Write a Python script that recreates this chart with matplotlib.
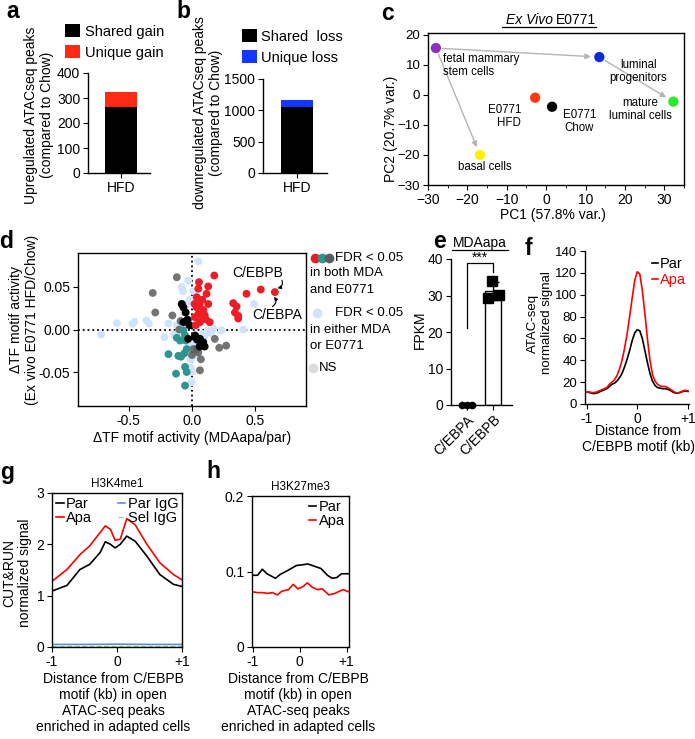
import numpy as np
import matplotlib
matplotlib.use('Agg')
import matplotlib.pyplot as plt
from matplotlib.lines import Line2D
from matplotlib.ticker import MultipleLocator

plt.rcParams['font.family'] = ['Liberation Sans', 'DejaVu Sans']
plt.rcParams['font.size'] = 10
plt.rcParams['axes.linewidth'] = 1.0
plt.rcParams['xtick.major.size'] = 3.5
plt.rcParams['ytick.major.size'] = 3.5
plt.rcParams['xtick.major.pad'] = 2
plt.rcParams['ytick.major.pad'] = 2

# ---- data ----
# a / b: stacked bars
bar_cat = ['HFD']
shared_gain = [265]
unique_gain = [60]
shared_loss = [1055]
unique_loss = [110]

# c: PCA
pca_names = ['fetal mammary\nstem cells', 'luminal\nprogenitors', 'mature\nluminal cells',
             'E0771\nHFD', 'E0771\nChow', 'basal cells']
pca_x = [-28.0, 13.5, 32.3, -2.8, 1.5, -16.8]
pca_y = [15.5, 12.5, -2.3, -1.0, -4.0, -20.0]
pca_col = ['#8e2fc4', '#0b2bd6', '#2ae82a', '#ff3a12', '#000000', '#fff200']

# d: TF motif activity
red_x = [0.176, 0.055, 0.128, 0.05, 0.115, 0.037, 0.081, 0.128, 0.037, 0.089, 0.05, 0.14,
         0.089, 0.024, 0.063, 0.03, 0.10, 0.06, 0.02, 0.11,
         0.325, 0.352, 0.339, 0.365, 0.365, 0.43, 0.543, 0.654]
red_y = [0.0635, 0.0557, 0.0506, 0.048, 0.042, 0.038, 0.035, 0.030, 0.026, 0.023, 0.018, 0.0086,
         0.0126, 0.0145, 0.0086, 0.005, 0.017, 0.030, 0.030, 0.012,
         0.031, 0.027, 0.020, 0.016, 0.013, 0.042, 0.047, 0.044]
lb_x = [-0.717, -0.593, -0.47, -0.455, -0.36, -0.34, -0.218, -0.186, -0.081, -0.07, -0.03, -0.02,
        -0.016, -0.01, -0.003, -0.01, 0.05, 0.234, 0.404, 0.49, 0.126, 0.17, 0.08, 0.02, 0.03,
        -0.12, -0.1, -0.06, -0.04, 0.0, -0.05, 0.1, 0.15, -0.14, 0.01, 0.0]
lb_y = [-0.006, 0.0074, 0.0067, 0.009, 0.0106, 0.007, -0.009, 0.007, 0.05, 0.045, 0.0576, 0.035,
        -0.016, -0.045, -0.062, -0.035, 0.080, -0.001, 0.0, 0.03, -0.001, 0.001, -0.005, -0.02, -0.03,
        0.005, -0.003, 0.02, 0.03, 0.01, -0.01, -0.008, -0.004, -0.006, 0.045, -0.05]
blk_x = [-0.081, -0.068, -0.05, -0.042, -0.068, -0.034, -0.02, 0.024, 0.063, 0.089, 0.08, 0.04,
         0.024, -0.03, 0.10, 0.06]
blk_y = [0.030, 0.026, 0.02, 0.0106, 0.0086, 0.0114, 0.005, -0.007, -0.011, -0.015, -0.017, -0.012,
         -0.009, -0.011, -0.02, -0.02]
gry_x = [-0.12, -0.31, -0.29, -0.155, -0.08, -0.09, 0.01, 0.063, 0.18, 0.215, 0.27, 0.05, 0.037,
         -0.1, 0.07, 0.0]
gry_y = [0.0615, 0.043, 0.020, 0.0165, 0.03, 0.01, -0.023, -0.048, -0.011, -0.0215, -0.019, -0.027,
         -0.023, 0.0, -0.035, -0.03]
teal_x = [-0.12, -0.055, -0.094, -0.05, -0.186, -0.108, -0.087, -0.06, -0.042, -0.055, -0.126,
          -0.042, -0.055, -0.068]
teal_y = [-0.0098, -0.007, -0.013, -0.013, -0.029, -0.031, -0.032, -0.028, -0.023, -0.044, -0.052,
          -0.050, -0.066, -0.001]

# e: FPKM
e_genes = ['C/EBPA', 'C/EBPB']
cebpa_fpkm = [0.0, 0.0, 0.0]
cebpb_fpkm = [29.3, 34.1, 30.2]

# f: ATAC-seq profile around C/EBPB motif
f_x = [-1.0, -0.95, -0.9, -0.85, -0.8, -0.75, -0.7, -0.65, -0.6, -0.55, -0.5, -0.45, -0.4, -0.35,
       -0.3, -0.25, -0.2, -0.15, -0.1, -0.05, 0.0, 0.05, 0.1, 0.15, 0.2, 0.25, 0.3, 0.35, 0.4, 0.45,
       0.5, 0.55, 0.6, 0.65, 0.7, 0.75, 0.8, 0.85, 0.9, 0.95, 1.0]
f_par = [11, 10.5, 10, 9.5, 10, 11, 12, 13, 14, 16, 18, 19, 21, 24, 28, 34, 41, 49, 58, 65, 68, 67,
         60, 49, 38, 28, 21, 17, 15, 14.5, 14, 14, 13.5, 12.5, 11, 10, 10, 10.5, 11.5, 12, 11.5]
f_apa = [11, 11, 10.5, 10.5, 11, 12, 13, 14, 15, 18, 20, 22, 26, 32, 40, 51, 64, 80, 97, 113, 121,
         119, 104, 83, 60, 40, 27, 21, 18, 16.5, 16, 16, 15, 13.5, 12, 10.5, 10, 11, 12, 12.5, 12]

# g: H3K4me1
g_x = [-1.0, -0.77, -0.57, -0.42, -0.26, -0.18, -0.1, -0.03, 0.05, 0.15, 0.28, 0.46, 0.66, 0.87, 1.0]
g_par = [1.09, 1.2, 1.51, 1.61, 1.84, 2.05, 2.0, 1.93, 2.0, 2.16, 2.06, 1.77, 1.41, 1.22, 1.18]
g_apa = [1.28, 1.51, 1.8, 1.97, 2.23, 2.36, 2.29, 2.08, 2.1, 2.5, 2.38, 2.0, 1.64, 1.41, 1.31]
g_igg_x = [-1.0, -0.5, 0.0, 0.5, 1.0]
g_par_igg = [0.05, 0.05, 0.055, 0.05, 0.05]
g_sel_igg = [0.02, 0.02, 0.02, 0.02, 0.02]

# h: H3K27me3
h_x = [-1.0, -0.9, -0.8, -0.7, -0.52, -0.42, -0.24, -0.07, 0.07, 0.17, 0.31, 0.45, 0.59, 0.69,
       0.79, 0.89, 1.05]
h_par = [0.095, 0.095, 0.103, 0.097, 0.091, 0.096, 0.102, 0.108, 0.109, 0.110, 0.107, 0.104,
         0.095, 0.091, 0.092, 0.097, 0.097]
h_apa_x = [-1.0, -0.9, -0.79, -0.69, -0.58, -0.48, -0.38, -0.24, -0.14, -0.04, 0.07, 0.16, 0.27,
           0.38, 0.48, 0.62, 0.75, 0.92, 1.05]
h_apa = [0.073, 0.072, 0.072, 0.071, 0.072, 0.069, 0.074, 0.076, 0.083, 0.077, 0.080, 0.085,
         0.079, 0.076, 0.077, 0.069, 0.071, 0.076, 0.073]

# ---- layout helpers (pixel positions in the 695x739 figure) ----
W, H = 695, 739
fig = plt.figure(figsize=(W / 100, H / 100), dpi=100)


def box(l, r, t, b):
    return [l / W, 1 - b / H, (r - l) / W, (b - t) / H]


def fx(px):
    return px / W


def fy(py):
    return 1 - py / H


def clean(ax):
    ax.spines['top'].set_visible(False)
    ax.spines['right'].set_visible(False)


RED = '#ff2a14'
BLUE = '#1436ff'

# panel letters
for lab, (px, py) in zip('abcdefgh', [(13, 12), (183, 12), (388, 14), (6, 241), (440, 242),
                                      (528, 248), (7, 472), (213, 472)]):
    fig.text(fx(px), fy(py), lab, fontsize=16.5, fontweight='bold', ha='center', va='center')

# ---- a ----
ax_a = fig.add_axes(box(88, 150, 73, 173))
ax_a.bar(bar_cat, shared_gain, width=0.8, color='black', label='Shared gain')
ax_a.bar(bar_cat, unique_gain, bottom=shared_gain, width=0.8, color=RED, label='Unique gain')
ax_a.set_xlim(-0.825, 0.725)
ax_a.set_ylim(0, 400)
ax_a.set_yticks([0, 100, 200, 300, 400])
clean(ax_a)
ax_a.legend(loc='upper left', bbox_to_anchor=(fx(65), fy(24)), bbox_transform=fig.transFigure,
            frameon=False, handlelength=1.0, handleheight=1.0, handletextpad=0.4,
            labelspacing=0.45, borderpad=0, borderaxespad=0, fontsize=10.5)
fig.text(fx(39), fy(115), 'Upregulated ATACseq peaks\n(compared to Chow)', rotation=90,
         ha='center', va='center', multialignment='center', fontsize=10)

# ---- b ----
ax_b = fig.add_axes(box(263, 327, 79, 173))
ax_b.bar(bar_cat, shared_loss, width=0.8, color='black', label='Shared  loss')
ax_b.bar(bar_cat, unique_loss, bottom=shared_loss, width=0.8, color=BLUE, label='Unique loss')
ax_b.set_xlim(-0.85, 0.765)
ax_b.set_ylim(0, 1500)
ax_b.set_yticks([0, 500, 1000, 1500])
clean(ax_b)
ax_b.legend(loc='upper left', bbox_to_anchor=(fx(242), fy(29)), bbox_transform=fig.transFigure,
            frameon=False, handlelength=1.0, handleheight=1.0, handletextpad=0.3,
            labelspacing=0.45, borderpad=0, borderaxespad=0, fontsize=10.5)
fig.text(fx(208), fy(113), 'downregulated ATACseq peaks\n(compared to Chow)', rotation=90,
         ha='center', va='center', multialignment='center', fontsize=10)

# ---- c ----
ax_c = fig.add_axes(box(428, 684, 33, 185))
arrow_kw = dict(arrowstyle='-|>', color='#b4b4b4', lw=1.0, shrinkA=5, shrinkB=6, mutation_scale=8)
for i, j in [(0, 1), (1, 2), (0, 5)]:
    ax_c.annotate('', xy=(pca_x[j], pca_y[j]), xytext=(pca_x[i], pca_y[i]), arrowprops=arrow_kw)
ax_c.scatter(pca_x, pca_y, c=pca_col, s=55, zorder=3, edgecolors='none')
lab_pos = [(-26.2, 9.7, 'left'), (23.4, 7.7, 'center'), (24.0, -4.8, 'center'),
           (-6.4, -7.2, 'right'), (8.4, -9.0, 'center'), (-15.5, -24.0, 'center')]
for name, (tx, ty, ha) in zip(pca_names, lab_pos):
    ax_c.text(tx, ty, name, ha=ha, va='center', multialignment=ha, fontsize=8.3, linespacing=1.1)
ax_c.set_xlim(-30, 35)
ax_c.set_ylim(-30, 20.5)
ax_c.set_xticks([-30, -20, -10, 0, 10, 20, 30])
ax_c.xaxis.set_minor_locator(MultipleLocator(5))
ax_c.tick_params(which='minor', length=2.5)
ax_c.set_yticks([-30, -20, -10, 0, 10, 20])
ax_c.tick_params(axis='y', labelsize=9.5)
fig.text(fx(391), fy(129), 'PC2 (20.7% var.)', rotation=90, ha='center', va='center', fontsize=10)
fig.text(fx(553), fy(215), 'PC1 (57.8% var.)', ha='center', va='center', fontsize=10)
fig.text(fx(553), fy(20), 'Ex Vivo', ha='right', va='center', fontsize=10, style='italic')
fig.text(fx(556), fy(20), 'E0771', ha='left', va='center', fontsize=10)
fig.add_artist(Line2D([fx(502), fx(596)], [fy(27), fy(27)], color='black', lw=0.9))

# ---- d ----
ax_d = fig.add_axes(box(78, 306, 253, 406))
ms = 32
ax_d.scatter(lb_x, lb_y, s=ms, color='#cfe4fa', edgecolors='none', zorder=2)
ax_d.scatter(gry_x, gry_y, s=ms, color='#5c5c5c', alpha=0.85, edgecolors='none', zorder=3)
ax_d.scatter(teal_x, teal_y, s=ms, color='#2e9490', edgecolors='none', zorder=4)
ax_d.scatter(blk_x, blk_y, s=ms, color='black', edgecolors='none', zorder=4)
ax_d.scatter(red_x, red_y, s=ms, color='#ee1c25', edgecolors='none', zorder=5)
ax_d.axhline(0, color='black', ls=':', lw=1.3, zorder=1)
ax_d.axvline(0, color='black', ls=':', lw=1.3, zorder=1)
ax_d.set_xlim(-0.9, 0.9)
ax_d.set_ylim(-0.09, 0.09)
ax_d.set_xticks([-0.5, 0.0, 0.5])
ax_d.set_yticks([-0.05, 0.0, 0.05])
ax_d.set_yticklabels(['-0.05', '0.00', '0.05'])
ax_d.set_xticklabels(['-0.5', '0.0', '0.5'])
ax_d.text(0.52, 0.067, 'C/EBPB', ha='center', va='center', fontsize=10)
ax_d.text(0.67, 0.0165, 'C/EBPA', ha='center', va='center', fontsize=10)
hook = dict(arrowstyle='-|>', color='black', lw=0.8, shrinkA=0, shrinkB=0, mutation_scale=5)
ax_d.annotate('', xy=(0.675, 0.0485), xytext=(0.71, 0.058),
              arrowprops=dict(hook, connectionstyle='arc3,rad=-0.5'))
ax_d.annotate('', xy=(0.648, 0.0385), xytext=(0.635, 0.027),
              arrowprops=dict(hook, connectionstyle='arc3,rad=0.5'))
fig.text(fx(16), fy(320), '\u0394TF motif activity', rotation=90, ha='center', va='center', fontsize=10)
fig.text(fx(32), fy(320), '(Ex vivo E0771 HFD/Chow)', rotation=90, ha='center', va='center', fontsize=10)
fig.text(fx(192), fy(438), '\u0394TF motif activity (MDAapa/par)', ha='center', va='center', fontsize=10)
# legend of d
leg_dots = [(315, 258, '#ee1c25'), (322, 258, '#2e9490'), (329, 258, '#5c5c5c'),
            (317, 313, '#cfe4fa'), (313, 368, '#dcdcdc')]
for px, py, col in leg_dots:
    fig.add_artist(Line2D([fx(px)], [fy(py)], marker='o', ms=7, color=col, mec='none', ls='none'))
fig.text(fx(335), fy(258), 'FDR < 0.05', va='center', fontsize=9.5)
fig.text(fx(310), fy(273), 'in both MDA', va='center', fontsize=9.5)
fig.text(fx(310), fy(290), 'and E0771', va='center', fontsize=9.5)
fig.text(fx(335), fy(313), 'FDR < 0.05', va='center', fontsize=9.5)
fig.text(fx(310), fy(330), 'in either MDA', va='center', fontsize=9.5)
fig.text(fx(310), fy(346), 'or E0771', va='center', fontsize=9.5)
fig.text(fx(319), fy(368), 'NS', va='center', fontsize=9.5)

# ---- e ----
ax_e = fig.add_axes(box(451, 512, 259, 405))
means = [np.mean(cebpa_fpkm), np.mean(cebpb_fpkm)]
ax_e.bar([0, 1], means, width=0.65, color='white', edgecolor='black', lw=1.0, zorder=2)
ax_e.errorbar(1, means[1], yerr=np.std(cebpb_fpkm, ddof=1), color='black', capsize=4, lw=1.0,
              zorder=3)
ax_e.plot([-0.2, 0.0, 0.18], cebpa_fpkm, 'o', color='black', ms=4.5, clip_on=False, zorder=4)
ax_e.plot([0.8, 0.97, 1.22], cebpb_fpkm, 's', color='black', ms=6.5, clip_on=False, zorder=4)
ax_e.plot([0, 0, 1, 1], [21, 39, 39, 36.5], color='black', lw=0.9, clip_on=False)
ax_e.text(0.5, 39.3, '***', ha='center', va='baseline', fontsize=10)
ax_e.set_xlim(-0.62, 1.73)
ax_e.set_ylim(0, 40)
ax_e.set_yticks([0, 10, 20, 30, 40])
ax_e.set_xticks([0, 1])
ax_e.set_xticklabels(e_genes, rotation=45, ha='right', rotation_mode='anchor')
clean(ax_e)
fig.text(fx(420), fy(330), 'FPKM', rotation=90, ha='center', va='center', fontsize=10)
fig.text(fx(480), fy(243), 'MDAapa', ha='center', va='center', fontsize=10)
fig.add_artist(Line2D([fx(452), fx(508)], [fy(250), fy(250)], color='black', lw=0.9))

# ---- f ----
ax_f = fig.add_axes(box(585, 689, 251, 404))
ax_f.plot(f_x, f_par, color='black', lw=1.2, label='Par')
ax_f.plot(f_x, f_apa, color='red', lw=1.2, label='Apa')
ax_f.set_xlim(-1.03, 1.02)
ax_f.set_ylim(0, 140)
ax_f.set_yticks(range(0, 141, 20))
ax_f.set_xticks([-1, 0, 1])
ax_f.set_xticklabels(['-1', '0', '+1'])
ax_f.tick_params(axis='y', labelsize=9.5)
clean(ax_f)
ax_f.legend(loc='upper right', bbox_to_anchor=(fx(693), fy(250)), bbox_transform=fig.transFigure,
            frameon=False, handlelength=0.4, handletextpad=0.15, labelspacing=0.1, borderpad=0,
            fontsize=10.5, labelcolor=['black', 'red'])
fig.text(fx(533), fy(323), 'ATAC-seq', rotation=90, ha='center', va='center', fontsize=9.5)
fig.text(fx(547), fy(323), 'normalized signal', rotation=90, ha='center', va='center', fontsize=9.5)
fig.text(fx(638), fy(439), 'Distance from\nC/EBPB motif (kb)', ha='center', va='center',
         fontsize=10, linespacing=1.15)

# ---- g ----
ax_g = fig.add_axes(box(52, 182, 493, 647))
ax_g.plot(g_x, g_par, color='black', lw=1.2, label='Par')
ax_g.plot(g_x, g_apa, color='red', lw=1.2, label='Apa')
ax_g.plot(g_igg_x, g_par_igg, color='#5b8fd6', lw=1.2, label='Par IgG')
ax_g.plot(g_igg_x, g_sel_igg, color='#8fd48f', lw=1.0, ls='--', label='Sel IgG')
ax_g.set_xlim(-1, 1)
ax_g.set_ylim(0, 3)
ax_g.set_yticks([0, 1, 2, 3])
ax_g.set_xticks([-1, 0, 1])
ax_g.set_xticklabels(['-1', '0', '+1'])
ax_g.legend(loc='upper left', ncol=2, frameon=False, handlelength=0.5, handletextpad=0.15,
            labelspacing=0.0, columnspacing=1.8, borderpad=0.2, borderaxespad=0.1, fontsize=10.5)
ax_g.set_title('H3K4me1', fontsize=8.5, pad=4)
fig.text(fx(9), fy(573), 'CUT&RUN', rotation=90, ha='center', va='center', fontsize=10)
fig.text(fx(25), fy(573), 'normalized signal', rotation=90, ha='center', va='center', fontsize=10)
xl = 'Distance from C/EBPB\nmotif (kb) in open\nATAC-seq peaks\nenriched in adapted cells'
fig.text(fx(113), fy(703), xl, ha='center', va='center', fontsize=10, linespacing=1.2)

# ---- h ----
ax_h = fig.add_axes(box(252, 349, 496, 647))
ax_h.plot(h_x, h_par, color='black', lw=1.2, label='Par')
ax_h.plot(h_apa_x, h_apa, color='red', lw=1.2, label='Apa')
ax_h.set_xlim(-1.02, 1.05)
ax_h.set_ylim(0, 0.2)
ax_h.set_yticks([0, 0.1, 0.2])
ax_h.set_yticklabels(['0', '0.1', '0.2'])
ax_h.set_xticks([-1, 0, 1])
ax_h.set_xticklabels(['-1', '0', '+1'])
ax_h.legend(loc='upper right', frameon=False, handlelength=0.5, handletextpad=0.15,
            labelspacing=0.0, borderpad=0.2, borderaxespad=0.1, fontsize=10.5)
ax_h.set_title('H3K27me3', fontsize=8.5, pad=4)
fig.text(fx(298), fy(703), xl, ha='center', va='center', fontsize=10, linespacing=1.2)

fig.savefig('out.png', dpi=100)
